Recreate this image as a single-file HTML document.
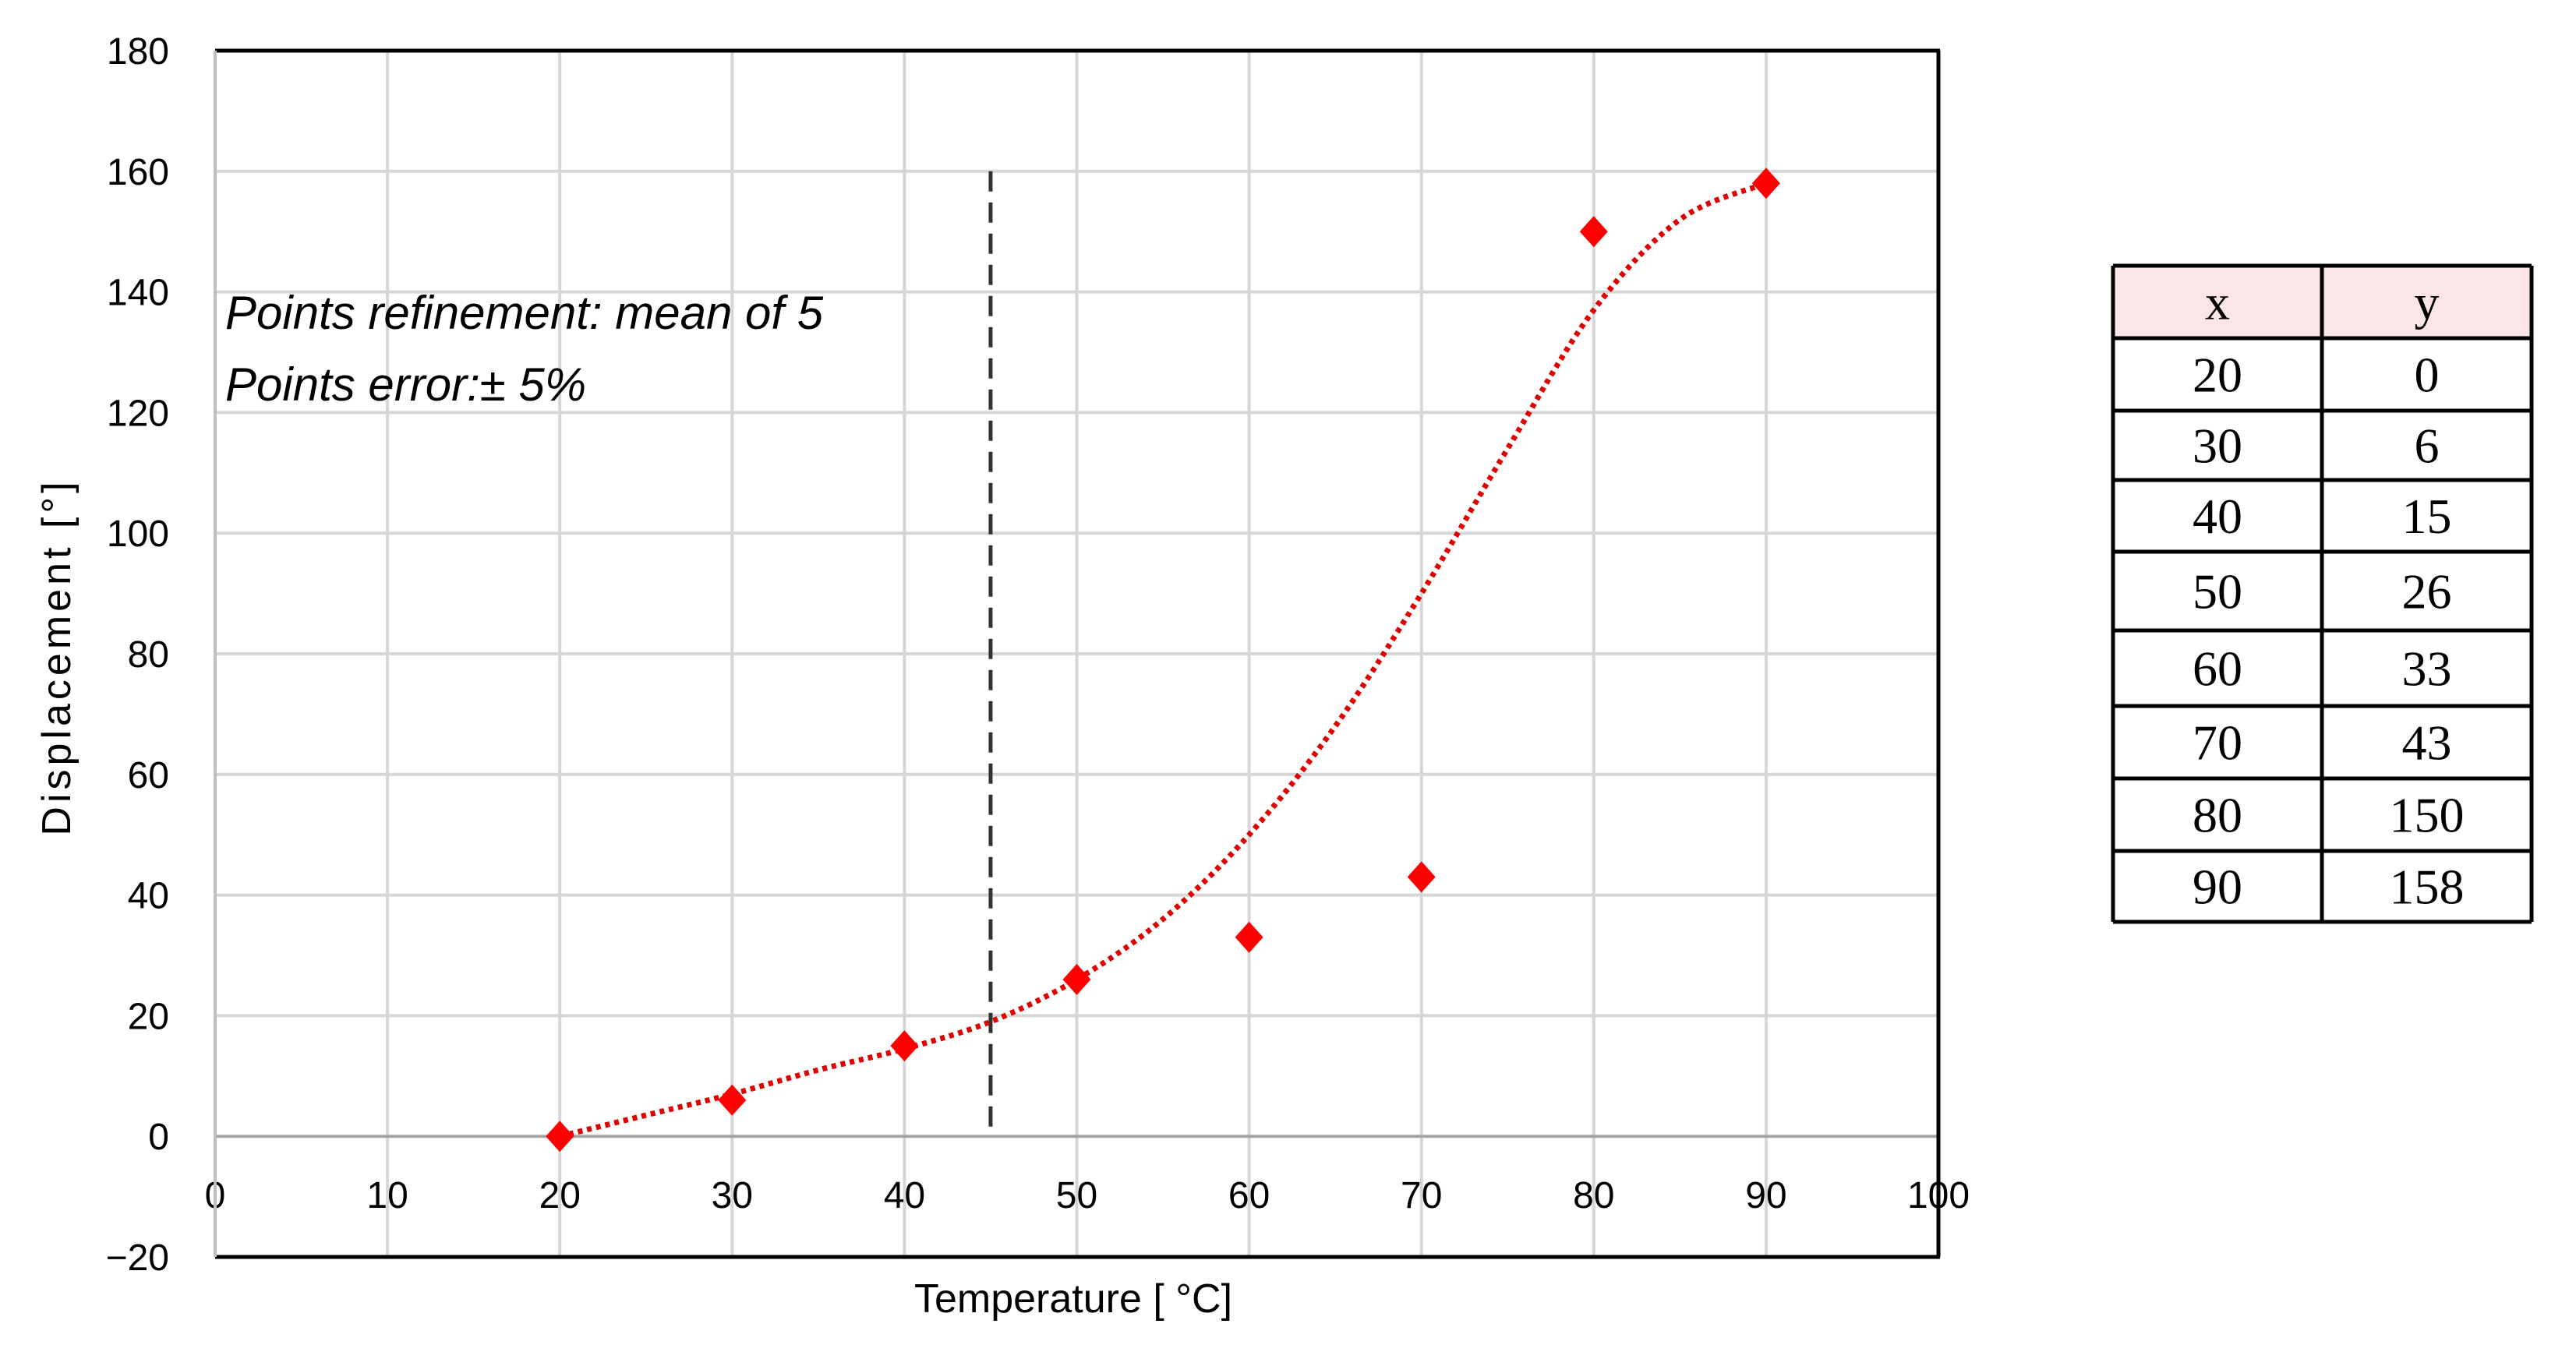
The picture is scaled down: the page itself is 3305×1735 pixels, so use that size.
<!DOCTYPE html>
<html><head><meta charset="utf-8"><style>
html,body{margin:0;padding:0;background:#fff;}
svg{display:block;}
</style></head><body>
<svg id="chart" width="3305" height="1735" viewBox="0 0 3305 1735" xmlns="http://www.w3.org/2000/svg">
<g id="grid"></g>
<g id="axes"></g>
<g id="marks"></g>
<text x="289" y="422" font-family="Liberation Sans, sans-serif" font-style="italic" font-size="60" fill="#000">Points refinement: mean of 5</text>
<text x="289" y="514" font-family="Liberation Sans, sans-serif" font-style="italic" font-size="60" fill="#000">Points error:± 5%</text>
<text x="1377" y="1684" text-anchor="middle" font-family="Liberation Sans, sans-serif" font-size="52" fill="#000">Temperature [ °C]</text>
<text transform="translate(90,843) rotate(-90)" text-anchor="middle" font-family="Liberation Sans, sans-serif" font-size="52" letter-spacing="5" fill="#000">Displacement [°]</text>
<g id="table"></g>
</svg>
<script>
const xs = [20,30,40,50,60,70,80,90];
const ys = [0,6,15,26,33,43,150,158];
const trendX = [20,25,30,35,40,45,50,55,60,65,70,75,80,85,90];
const trendY = [0,3.5,7,11,14.5,19,26,36,50,68,90,114,137,152,158];
const xTicks = [0,10,20,30,40,50,60,70,80,90,100];
const yTicks = [-20,0,20,40,60,80,100,120,140,160,180];
const cutoffX = 45;
const cutoffTop = 160;

const PL=276,PR=2487,PT=65,PB=1613;
const sx=v=>PL+(v-0)/100*(PR-PL);
const sy=v=>PT+(180-v)/200*(PB-PT);
const NS='http://www.w3.org/2000/svg';
function mk(tag,attrs,parent){const e=document.createElementNS(NS,tag);for(const k in attrs)e.setAttribute(k,attrs[k]);parent.appendChild(e);return e;}
const gridG=document.getElementById('grid'),axesG=document.getElementById('axes'),marksG=document.getElementById('marks');

xTicks.forEach(v=>{
  const g=mk('line',{x1:sx(v),x2:sx(v),y1:PT,y2:PB,stroke:'#d6d6d6','stroke-width':4},gridG);
  
  
  const t=mk('text',{x:sx(v),y:1550,'text-anchor':'middle','font-family':'Liberation Sans, sans-serif','font-size':48,fill:'#000'},axesG);
  t.textContent=v;
  
  
});
yTicks.forEach(v=>{
  const g=mk('line',{x1:PL,x2:PR,y1:sy(v),y2:sy(v),stroke:v===0?'#a6a6a6':'#d6d6d6','stroke-width':4},gridG);
  
  
  const t=mk('text',{x:217,y:sy(v)+17,'text-anchor':'end','font-family':'Liberation Sans, sans-serif','font-size':48,fill:'#000'},axesG);
  t.textContent=v<0?'\u2212'+(-v):v;
  
  
});
const bTop=mk('line',{x1:PL,x2:PR+2,y1:PT,y2:PT,stroke:'#000','stroke-width':5},axesG);


const bBot=mk('line',{x1:PL,x2:PR+2,y1:PB,y2:PB,stroke:'#000','stroke-width':5},axesG);


const bRgt=mk('line',{x1:PR,x2:PR,y1:PT,y2:PB,stroke:'#000','stroke-width':5},axesG);


const bLft=mk('line',{x1:PL,x2:PL,y1:PT,y2:PB,stroke:'#bfbfbf','stroke-width':4},axesG);



const dl=mk('line',{x1:sx(cutoffX),x2:sx(cutoffX),y1:sy(cutoffTop),y2:sy(0),stroke:'#333','stroke-width':5,'stroke-dasharray':'26 14'},marksG);



let d='';
for(let i=0;i<trendX.length;i++){
  const x=sx(trendX[i]),y=sy(trendY[i]);
  if(i===0){d+='M'+x+','+y;continue;}
  const x0=sx(trendX[i-1]),y0=sy(trendY[i-1]);
  const xm1=i>1?sx(trendX[i-2]):x0,ym1=i>1?sy(trendY[i-2]):y0;
  const x2=i<trendX.length-1?sx(trendX[i+1]):x,y2=i<trendX.length-1?sy(trendY[i+1]):y;
  const c1x=x0+(x-xm1)/6,c1y=y0+(y-ym1)/6,c2x=x-(x2-x0)/6,c2y=y-(y2-y0)/6;
  d+=' C'+c1x+','+c1y+' '+c2x+','+c2y+' '+x+','+y;
}
const tr=mk('path',{d:d,fill:'none',stroke:'#e00000','stroke-width':7,'stroke-dasharray':'6 6','stroke-linecap':'butt'},marksG);



xs.forEach((xv,i)=>{
  const cx=sx(xv),cy=sy(ys[i]),r=20;
  const p=mk('polygon',{points:`${cx},${cy-r} ${cx+r*0.9},${cy} ${cx},${cy+r} ${cx-r*0.9},${cy}`,fill:'#ff0000'},marksG);
  
  
});

const tb=document.getElementById('table');
const TL=2711,TR=3248,TM=2979;
const rowsY=[341,434,527,616,708,809,906,999,1092,1183];
const hdr=mk('rect',{x:TL,y:rowsY[0],width:TR-TL,height:rowsY[1]-rowsY[0],fill:'#fbe5e6'},tb);


rowsY.forEach(y=>{
  const l=mk('line',{x1:TL,x2:TR,y1:y,y2:y,stroke:'#000','stroke-width':5},tb);
  
  
});
[TL,TM,TR].forEach(x=>{
  const l=mk('line',{x1:x,x2:x,y1:rowsY[0],y2:rowsY[rowsY.length-1],stroke:'#000','stroke-width':5},tb);
  
  
});
const cells=[['x','y']].concat(xs.map((x,i)=>[String(x),String(ys[i])]));
cells.forEach((row,i)=>{
  const yc=(rowsY[i]+rowsY[i+1])/2+22;
  row.forEach((txt,j)=>{
    const t=mk('text',{x:j===0?(TL+TM)/2:(TM+TR)/2,y:yc,'text-anchor':'middle','font-family':'Liberation Serif, serif','font-size':64,fill:'#000'},tb);
    t.textContent=txt;
    
    
  });
});
</script>
</body></html>
